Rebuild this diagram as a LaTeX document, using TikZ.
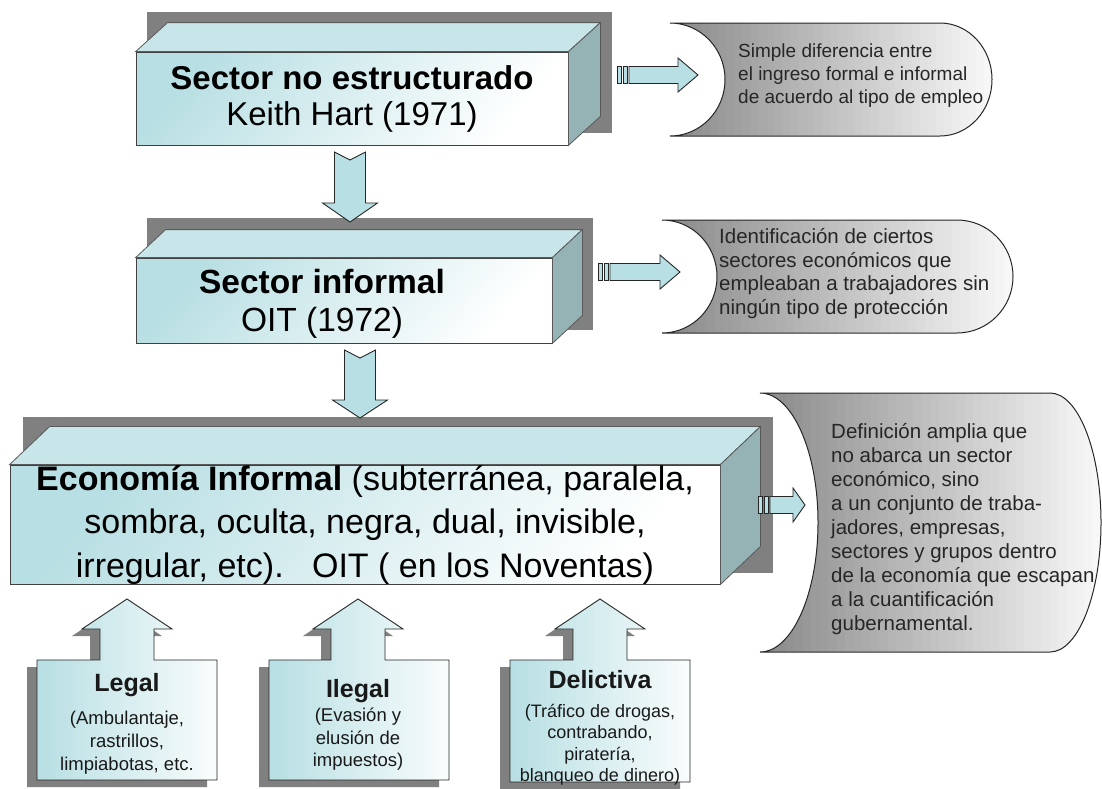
\documentclass[tikz,border=0pt]{standalone}
\usepackage{fontspec}
\setmainfont{Liberation Sans}
\usetikzlibrary{positioning}
\definecolor{boxcyan}{RGB}{184,223,227}
\definecolor{topcyan}{RGB}{200,230,233}
\definecolor{sidecyan}{RGB}{149,179,181}
\definecolor{backgray}{RGB}{128,128,128}
\definecolor{notetext}{RGB}{38,38,38}
\tikzset{
  front face/.style 2 args={
    top color=boxcyan,
    bottom color=white,
    shading angle=50,
    draw=black!75,
    line width=0.8pt,
    minimum width={#1pt},
    minimum height={#2pt},
    inner sep=0pt,
    align=center,
  },
  top face/.style={fill=topcyan, draw=black!65, line width=0.8pt},
  side face/.style={fill=sidecyan, draw=black!65, line width=0.8pt},
  back shade/.style={fill=backgray},
  block arrow/.style={fill=boxcyan, draw=black!85, line width=0.9pt},
  note line/.style={draw=black!85, line width=1pt},
  note text/.style={anchor=west, align=left, inner sep=0pt, text=notetext},
  kind line/.style={draw=black!85, line width=0.9pt},
  kind text/.style={align=center, inner sep=0pt, text=black!90},
}
% top and right faces of a box whose front is node #1
\newcommand{\prismsides}[3]{%
  \filldraw[top face] (#1.north west) -- ++(#2,-#3) -- ([shift={(#2,-#3)}]#1.north east) -- (#1.north east) -- cycle;
  \filldraw[side face] (#1.north east) -- ([shift={(#2,-#3)}]#1.north east) -- ([shift={(#2,-#3)}]#1.south east) -- (#1.south east) -- cycle;
}
% left x, top y, left bulge x, right x, right bulge x, bottom y
\newcommand{\notepath}[6]{%
  (#1,#2) .. controls ({#1+0.552*(#3-#1)},#2) and (#3,{#2+0.224*(#6-#2)}) .. (#3,{0.5*(#2+#6)})
  .. controls (#3,{#6-0.224*(#6-#2)}) and ({#1+0.552*(#3-#1)},#6) .. (#1,#6)
  -- (#4,#6)
  .. controls ({#4+0.552*(#5-#4)},#6) and (#5,{#6-0.224*(#6-#2)}) .. (#5,{0.5*(#2+#6)})
  .. controls (#5,{#2+0.224*(#6-#2)}) and ({#4+0.552*(#5-#4)},#2) .. (#4,#2) -- cycle}
% grey to white, left to right, in thin strips
\newcommand{\notebox}[6]{%
  \begin{scope}
    \clip \notepath{#1}{#2}{#3}{#4}{#5}{#6};
    \foreach \i in {0,...,39} {
      \pgfmathsetmacro\greypct{46-\i*1.1}
      \fill[black!\greypct] ({#1+\i*(#5-#1)/40},#2) rectangle ({#1+(\i+1.1)*(#5-#1)/40},#6);
    }
  \end{scope}
  \draw[note line] \notepath{#1}{#2}{#3}{#4}{#5}{#6};
}
% centre x, top y, head y, tip y
\newcommand{\notchedpath}[4]{%
  ({#1-15.5},#2) -- (#1,{#2+8}) -- ({#1+15.5},#2) -- ({#1+15.5},#3) -- ({#1+27.5},#3)
  -- (#1,#4) -- ({#1-27.5},#3) -- ({#1-15.5},#3) -- cycle}
% tail x, head x, tip x, middle y
\newcommand{\stripedarrow}[4]{%
  \filldraw[block arrow] (#1,{#4-8.5}) rectangle ++(4,17);
  \filldraw[block arrow] ({#1+6},{#4-8.5}) rectangle ++(4,17);
  \filldraw[block arrow] ({#1+12},{#4-8.5}) -- (#2,{#4-8.5}) -- (#2,{#4-17}) -- (#3,#4)
    -- (#2,{#4+17}) -- (#2,{#4+8.5}) -- ({#1+12},{#4+8.5}) -- cycle;
}
% centre x, left x, right x, bottom y
\newcommand{\kindpath}[4]{%
  (#2,#4) -- (#2,660) -- ({#1-27},660) -- ({#1-27},629) -- ({#1-45},629) -- (#1,599)
  -- ({#1+45},629) -- ({#1+27},629) -- ({#1+27},660) -- (#3,660) -- (#3,#4) -- cycle}
% cyan to white, left to right, in thin strips
\newcommand{\kindbox}[4]{%
  \fill[back shade, shift={(-10,7)}] \kindpath{#1}{#2}{#3}{#4};
  \begin{scope}
    \clip \kindpath{#1}{#2}{#3}{#4};
    \foreach \i in {0,...,29} {
      \pgfmathsetmacro\cyanpct{100-\i*3.1}
      \fill[boxcyan!\cyanpct!white] ({#2+\i*(#3-#2)/30},599) rectangle ({#2+(\i+1.1)*(#3-#2)/30},#4);
    }
  \end{scope}
  \draw[kind line] \kindpath{#1}{#2}{#3}{#4};
}

\begin{document}
\begin{tikzpicture}[x=1pt, y=-1pt]
  \useasboundingbox (0,0) rectangle (1102,788);

  % grey backs of the three boxes
  \fill[back shade] (147,12) rectangle (612,133);
  \fill[back shade] (147,218) rectangle (593,330);
  \fill[back shade] (23,417) rectangle (773,573);

  \node[front face={432}{93}, font=\fontsize{33}{36}\selectfont] (s1) at (352,98.5)
    {\textbf{Sector no estructurado}\\Keith Hart (1971)};
  \prismsides{s1}{32}{29}
  \node[front face={416}{85}] (s2) at (344,300.5) {};
  \prismsides{s2}{30}{28}
  \node[align=center, inner sep=0pt, font=\fontsize{33.5}{38}\selectfont] (t2) at (322,304)
    {\textbf{Sector informal}\\OIT (1972)};
  \node[front face={710}{117}, font=\fontsize{34}{43.5}\selectfont] (s3) at (365,524.5)
    {\textbf{Economía Informal} (subterránea, paralela,\\sombra, oculta, negra, dual, invisible,\\irregular, etc).\ \ \ OIT ( en los Noventas)};
  \prismsides{s3}{40}{38}

  % notes on the right
  \notebox{670}{23}{725}{940}{992}{136}
  \node[note text, font=\fontsize{19}{23}\selectfont] (n1) at (738,76)
    {Simple diferencia entre\\el ingreso formal e informal\\de acuerdo al tipo de empleo};
  \notebox{662}{220}{717}{957}{1013}{333}
  \node[note text, font=\fontsize{20.5}{23.7}\selectfont] (n2) at (719,273.5)
    {Identificación de ciertos\\sectores económicos que\\empleaban a trabajadores sin\\ningún tipo de protección};
  \notebox{760}{393}{818}{1050}{1101}{652}
  \node[note text, font=\fontsize{20.5}{24}\selectfont] (n3) at (831,529)
    {Definición amplia que\\no abarca un sector\\económico, sino\\a un conjunto de traba-\\jadores, empresas,\\sectores y grupos dentro\\de la economía que escapan\\a la cuantificación\\gubernamental.};

  % block arrows
  \filldraw[block arrow] \notchedpath{350}{152}{203}{222};
  \filldraw[block arrow] \notchedpath{360}{350}{400}{418};
  \stripedarrow{617}{678}{698}{75}
  \stripedarrow{598}{660}{680}{272}
  \stripedarrow{758}{793}{805}{505}

  % the three kinds below
  \kindbox{127}{37}{217}{780}
  \kindbox{358}{269}{449}{780}
  \kindbox{600}{510}{690}{782}
  \node[kind text, font=\fontsize{18.5}{23}\selectfont] (k1) at (127,724)
    {{\fontsize{25}{23}\selectfont\bfseries Legal}\\[10pt](Ambulantaje,\\rastrillos,\\limpiabotas, etc.};
  \node[kind text, font=\fontsize{18.5}{22.5}\selectfont] (k2) at (358,725)
    {{\fontsize{25}{23}\selectfont\bfseries Ilegal}\\[2pt](Evasión y\\elusión de\\impuestos)};
  \node[kind text, font=\fontsize{18}{21.5}\selectfont] (k3) at (600,728)
    {{\fontsize{25}{23}\selectfont\bfseries Delictiva}\\[7.5pt](Tráfico de drogas,\\contrabando,\\piratería,\\blanqueo de dinero)};
\end{tikzpicture}
\end{document}
